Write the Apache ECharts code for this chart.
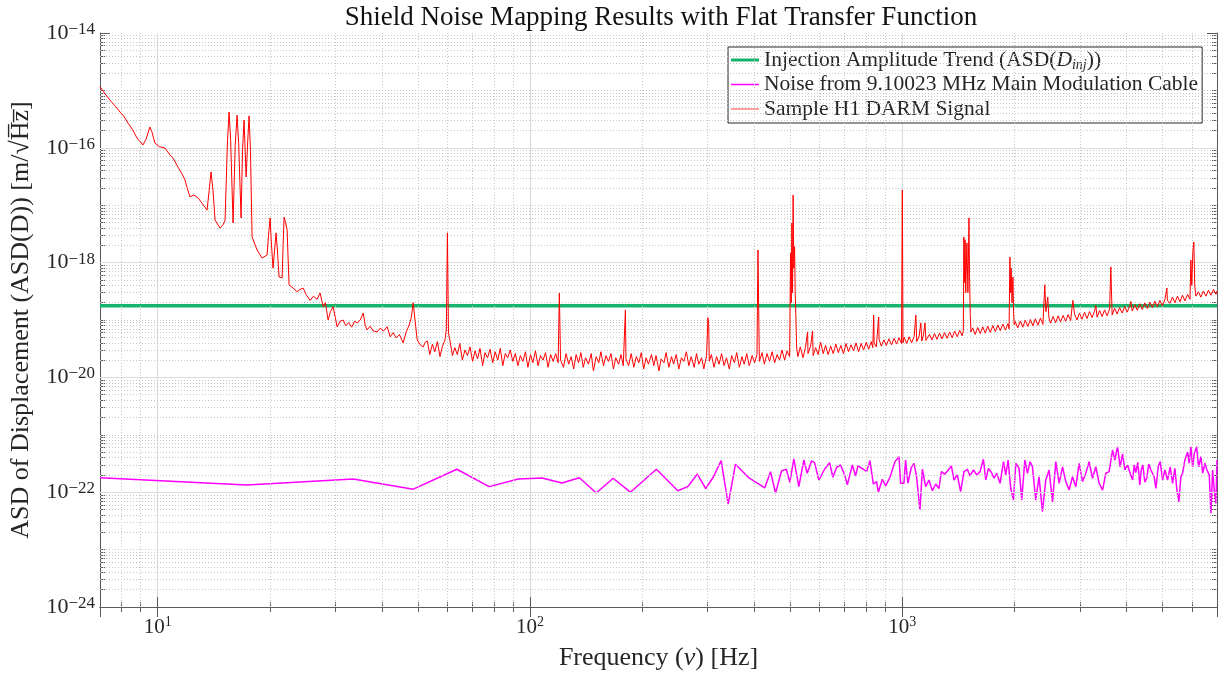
<!DOCTYPE html>
<html>
<head>
<meta charset="utf-8">
<script src="https://cdn.jsdelivr.net/npm/echarts@6/dist/echarts.min.js"></script>
<style>html,body{margin:0;padding:0;background:#fff}#chart{width:1230px;height:674px}</style>
</head>
<body>
<div id="chart"></div>
<script>
// ---------------- data ----------------
const xRange = [7, 7000];
const yRange = [1e-24, 1e-14];
const xDecades = [1, 10, 100, 1000];
const yDecadeExponents = [-24, -23, -22, -21, -20, -19, -18, -17, -16, -15];
const yLabelExponents = [-24, -22, -20, -18, -16, -14];
const minorMultipliers = [2, 3, 4, 5, 6, 7, 8, 9];

const legendNames = [
  'Injection Amplitude Trend (ASD(D_inj))',
  'Noise from 9.10023 MHz Main Modulation Cable',
  'Sample H1 DARM Signal'
];

const injectionTrend = [[7, 1.77e-19], [7000, 1.77e-19]];

const cableNoise = [
[7.0,1.79e-22],[17.35,1.34e-22],[33.5,1.70e-22],[48.6,1.13e-22],[63.6,2.51e-22],[77.7,1.25e-22],[93.0,1.70e-22],[107.7,1.77e-22],[121.9,1.45e-22],[135.7,1.79e-22],[150.7,9.7e-23],[167.2,1.75e-22],[186,1.0e-22],[218.5,2.51e-22],[249.4,1.06e-22],[265.3,1.25e-22],[281.2,2.06e-22],[296.5,1.16e-22],[310.5,1.82e-22],[326.1,3.54e-22],[340.6,6.2e-23],[356.4,3.07e-22],[385.5,1.82e-22],[427.1,1.19e-22],[442.6,2.28e-22],[456.5,9.6e-23],[473.7,2.35e-22],[487.7,2.51e-22],[498.7,1.49e-22],[511.2,3.79e-22],[527.2,1.25e-22],[543.8,3.64e-22],[555.3,2.14e-22],[570.4,3.5e-22],[581.1,3.27e-22],[596.8,1.63e-22],[618.2,2.51e-22],[637.7,3.27e-22],[650.8,1.82e-22],[666.0,2.72e-22],[682.6,2.98e-22],[699.8,2.0e-22],[711.6,1.34e-22],[734.0,2.98e-22],[749.1,1.92e-22],[759.8,2.87e-22],[785.7,2.51e-22],[801.8,2.28e-22],[818.4,3.54e-22],[835.7,1.39e-22],[853.0,1.53e-22],[862.1,1.0e-22],[883.6,1.68e-22],[901.9,1.29e-22],[926.3,1.82e-22],[955.3,3.41e-22],[979.3,4.16e-22],[989.5,1.43e-22],[1010,1.43e-22],[1020,3.64e-22],[1035,1.43e-22],[1057,2.69e-22],[1075,3.19e-22],[1092,1.86e-22],[1115,4.9e-23],[1132,2.51e-22],[1155,1.25e-22],[1179,1.63e-22],[1204,1.06e-22],[1229,1.39e-22],[1254,1.16e-22],[1273,2.28e-22],[1299,2.06e-22],[1329,2.44e-22],[1354,2.87e-22],[1376,1.63e-22],[1405,2.0e-22],[1434,1.02e-22],[1464,2.28e-22],[1495,2.51e-22],[1519,1.92e-22],[1552,2.44e-22],[1584,2.0e-22],[1617,2.28e-22],[1651,3.74e-22],[1675,1.63e-22],[1703,2.6e-22],[1735,2.2e-22],[1763,1.75e-22],[1793,2.14e-22],[1830,1.43e-22],[1869,3.41e-22],[1896,2.0e-22],[1923,3.64e-22],[1955,1.16e-22],[1988,7.3e-23],[2017,3.19e-22],[2058,2.6e-22],[2093,7.3e-23],[2133,3.64e-22],[2168,2.14e-22],[2203,3.41e-22],[2236,2.77e-22],[2282,7.3e-23],[2329,1.86e-22],[2378,4.6e-23],[2428,1.63e-22],[2478,2.44e-22],[2531,6.8e-23],[2583,3.41e-22],[2637,1.43e-22],[2693,2.77e-22],[2748,1.53e-22],[2805,1.09e-22],[2864,1.86e-22],[2924,1.25e-22],[2984,3.19e-22],[3048,1.53e-22],[3110,2.14e-22],[3174,3.41e-22],[3242,1.75e-22],[3309,2.77e-22],[3377,1.43e-22],[3449,1.09e-22],[3520,2.14e-22],[3593,2.28e-22],[3669,5.44e-22],[3722,3.64e-22],[3784,6.2e-22],[3846,2.77e-22],[3904,4.65e-22],[3960,2.44e-22],[4026,2.98e-22],[4091,2.14e-22],[4153,1.63e-22],[4195,3.0e-22],[4236,2.2e-22],[4290,3.3e-22],[4342,1.34e-22],[4385,2.5e-22],[4425,2.98e-22],[4480,1.5e-22],[4536,1.77e-22],[4590,3.1e-22],[4650,2.44e-22],[4746,1.86e-22],[4797,1.16e-22],[4866,2.77e-22],[4926,3.41e-22],[4999,1.63e-22],[5071,2.44e-22],[5157,1.63e-22],[5241,2.77e-22],[5319,1.43e-22],[5395,2.6e-22],[5463,1.09e-22],[5530,6.8e-23],[5599,1.86e-22],[5658,2.14e-22],[5740,3.64e-22],[5836,5.0e-22],[5894,3.19e-22],[5957,6.2e-22],[6020,2.77e-22],[6080,4.65e-22],[6170,6.2e-22],[6248,2.77e-22],[6338,4.16e-22],[6405,2.14e-22],[6496,3.19e-22],[6577,2.44e-22],[6672,2.0e-22],[6743,4.3e-23],[6813,2.44e-22],[6881,1.09e-22],[6953,6.4e-23],[7000,3.64e-22]
];

const darmSignal = [
[7.0,1.16e-15],[7.2,9.0e-16],[7.44,6.8e-16],[7.7,5.3e-16],[7.92,4.2e-16],[8.1,3.6e-16],[8.32,2.7e-16],[8.55,2.1e-16],[8.8,1.48e-16],[8.95,1.3e-16],[9.13,1.12e-16],[9.3,1.4e-16],[9.53,2.3e-16],[9.65,1.9e-16],[9.83,1.21e-16],[10.1,1.05e-16],[10.46,9.9e-17],[10.79,7.5e-17],[11.0,6.6e-17],[11.34,4.6e-17],[11.6,3.6e-17],[11.84,2.75e-17],[12.0,2.0e-17],[12.21,1.4e-17],[12.5,1.5e-17],[12.83,1.35e-17],[13.2,1.05e-17],[13.57,8.2e-18],[13.75,1.8e-17],[13.91,3.8e-17],[14.08,1.8e-17],[14.26,5.5e-18],[14.71,4.0e-18],[15.0,4.6e-18],[15.17,5.5e-18],[15.4,1.3e-16],[15.55,4.2e-16],[15.7,1.4e-16],[15.94,4.9e-18],[16.15,1.1e-16],[16.34,3.7e-16],[16.5,1.2e-16],[16.75,6.0e-18],[16.9,9e-17],[17.06,3.05e-16],[17.15,1.2e-16],[17.28,3.1e-17],[17.45,1.3e-16],[17.6,3.6e-16],[17.75,9e-17],[17.93,2.8e-18],[18.49,1.66e-18],[19.07,1.2e-18],[19.67,1.36e-18],[19.85,3e-18],[20.04,6.0e-18],[20.2,2.2e-18],[20.41,8.0e-19],[20.6,1.6e-18],[20.8,3.3e-18],[21.0,1.4e-18],[21.19,5.6e-19],[21.59,5.4e-19],[21.72,2e-18],[21.86,6.2e-18],[22.05,5e-18],[22.27,3.7e-18],[22.4,1.2e-18],[22.54,4.1e-19],
[23.1,3.6e-19],[23.69,3.1e-19],[24.1,3.4e-19],[24.58,3.6e-19],[25.1,2.7e-19],[25.67,2.2e-19],[26.2,2.6e-19],[26.8,2.3e-19],[27.31,2.95e-19],[27.82,1.7e-19],[28.2,2.0e-19],[28.7,1.0e-19],[29.1,1.4e-19],[29.6,1.7e-19],[30.0,1.1e-19],[30.34,7.6e-20],[30.9,9.5e-20],[31.48,1.0e-19],[32.0,8.0e-20],[32.6,9.0e-20],[33.2,7.5e-20],[33.8,9.5e-20],[34.35,8.9e-20],[35.0,1.0e-19],[35.65,1.32e-19],[36.1,8e-20],[36.52,6.7e-20],[37.2,7.8e-20],[37.9,6.5e-20],[38.86,6.2e-20],[39.6,7.2e-20],[40.4,6.4e-20],[41.34,7.6e-20],[42.12,5.1e-20],[42.9,6.0e-20],[43.7,4.9e-20],[44.6,5.6e-20],[45.64,4.0e-20],[46.5,6.2e-20],[47.37,8.2e-20],[48.0,1.1e-19],[48.57,2.0e-19],[49.1,1.0e-19],[49.78,4.5e-20],[50.7,3.7e-20],[51.67,3.4e-20],[52.3,4.1e-20],
[53.0,4.3e-20],[53.8,2.5e-20],[54.7,3.8e-20],[55.5,2.8e-20],[56.4,4.2e-20],[57.3,2.3e-20],[58.2,3.5e-20],[59.1,4.5e-20],[59.6,6.7e-20],[60.0,3.3e-18],[60.4,6.0e-20],[60.9,4.5e-20],[61.9,2.4e-20],[62.8,3.3e-20],[63.8,2.5e-20],[64.8,3.9e-20],[65.8,2.0e-20],[66.9,3.0e-20],[67.9,2.4e-20],[69.0,3.4e-20],[70.1,1.9e-20],[71.2,2.9e-20],[72.3,2.1e-20],[73.4,3.2e-20],[74.6,1.6e-20],[75.7,2.7e-20],[76.9,2.2e-20],[78.1,3.1e-20],[79.4,1.8e-20],[80.6,2.8e-20],[81.9,2.0e-20],[83.2,3.2e-20],[84.5,1.6e-20],[85.8,2.6e-20],[87.1,2.2e-20],[88.5,3.0e-20],[89.9,1.9e-20],[91.3,2.6e-20],[92.8,1.6e-20],[94.2,2.4e-20],[95.7,1.9e-20],[97.2,2.8e-20],[98.7,1.5e-20],[100.3,2.5e-20],[101.8,1.8e-20],[103.4,2.9e-20],[105.1,1.6e-20],[106.7,2.4e-20],[108.4,2.0e-20],[110.1,2.7e-20],[111.8,1.5e-20],[113.6,2.5e-20],[115.4,1.9e-20],[117.2,2.6e-20],[119.0,1.8e-20],[119.9,2.95e-19],[120.8,2.0e-20],
[123,1.5e-20],[125,2.6e-20],[127,1.7e-20],[129,2.3e-20],[131,1.4e-20],[133,2.5e-20],[135,1.8e-20],[137,2.7e-20],[139,1.5e-20],[141,2.2e-20],[143.5,1.7e-20],[146,2.6e-20],[148,1.3e-20],[150.5,2.3e-20],[153,1.8e-20],[155,2.8e-20],[157.5,1.6e-20],[160,2.4e-20],[162.5,1.9e-20],[165,2.6e-20],[167.5,1.4e-20],[170,2.2e-20],[173,1.7e-20],[175.5,2.5e-20],[178,1.6e-20],[180.4,1.5e-19],[181,2.1e-20],[184,1.6e-20],[187,2.6e-20],[190,1.5e-20],[193,2.3e-20],[196,1.8e-20],[199,2.7e-20],[202,1.4e-20],[205,2.2e-20],[208,1.7e-20],[212,2.5e-20],[215,1.6e-20],[218,2.4e-20],[222,1.3e-20],[225,2.1e-20],[229,1.8e-20],[232,2.7e-20],[236,1.5e-20],[240,2.3e-20],[243,1.7e-20],[247,2.5e-20],[251,1.4e-20],[255,2.2e-20],[259,1.9e-20],[263,2.8e-20],[267,1.6e-20],[271,2.3e-20],[276,1.5e-20],[280,2.6e-20],[284,1.7e-20],[289,2.2e-20],[293,1.4e-20],[298,2.4e-20],[300.5,1.1e-19],[302,8.0e-20],[303,1.9e-20],[307,2.5e-20],[312,1.5e-20],[317,2.3e-20],[322,1.7e-20],[327,2.6e-20],[332,1.6e-20],[337,2.2e-20],[343,1.4e-20],[348,2.4e-20],[354,1.8e-20],[359,2.7e-20],[365,1.5e-20],[371,2.3e-20],[376,1.7e-20],[382,2.6e-20],[388,1.6e-20],[395,2.4e-20],[401,1.8e-20],[407,2.5e-20],[409.5,1.66e-18],[413,1.9e-20],[420,2.7e-20],[426,1.7e-20],[433,2.6e-20],[440,1.9e-20],[447,2.8e-20],[454,1.8e-20],[461,2.5e-20],[468,2.0e-20],[475,3.0e-20],[483,2.0e-20],[490,2.9e-20],[498,2.3e-20],
[500.8,1.47e-18],[503.0,2.0e-19],[505.0,4.9e-18],[507.0,3e-19],[509.0,1.5e-17],[511.0,8e-19],[513.5,1.9e-18],[515.5,3e-19],[518.0,1.0e-19],[520.0,3.4e-20],[524,2.3e-20],[532,3.4e-20],[541,2.2e-20],[549,3.3e-20],[556.6,6.2e-20],[558,2.6e-20],[567,3.5e-20],[574,6.4e-20],[576,2.4e-20],[585,3.3e-20],[594,2.5e-20],[603,4.1e-20],[613,2.6e-20],[622,3.6e-20],[632,2.5e-20],[642,3.5e-20],[652,2.6e-20],[663,3.8e-20],[673,2.7e-20],[684,3.6e-20],[695,2.6e-20],[706,3.9e-20],[717,2.8e-20],[728,3.7e-20],[740,2.9e-20],[751,4.0e-20],[763,2.8e-20],[775,3.9e-20],[787,3.0e-20],[800,4.1e-20],[812,3.1e-20],[825,4.2e-20],[833,3.3e-20],[837.5,1.22e-19],[840,4.0e-20],[851,3.4e-20],[864,1.13e-19],[866,4.6e-20],[878,3.5e-20],[892,4.5e-20],[906,3.6e-20],[920,4.7e-20],[935,3.7e-20],[950,4.8e-20],[965,3.8e-20],[980,4.9e-20],[995,3.9e-20],[1000,1.84e-17],[1004,4.0e-20],
[1011,5.0e-20],[1027,3.9e-20],[1043,5.1e-20],[1059,4.0e-20],[1076,5.2e-20],[1087,1.22e-19],[1093,4.2e-20],[1110,5.3e-20],[1121,8.9e-20],[1128,4.3e-20],[1140,5.5e-20],[1150,8.9e-20],[1157,4.4e-20],[1182,5.6e-20],[1201,4.5e-20],[1220,5.8e-20],[1239,4.6e-20],[1258,5.9e-20],[1278,4.7e-20],[1298,6.0e-20],[1319,4.8e-20],[1340,6.2e-20],[1361,4.9e-20],[1382,6.4e-20],[1404,5.1e-20],[1426,6.6e-20],[1448,5.3e-20],[1458,6.5e-20],
[1463.0,2.8e-18],[1468.0,4.5e-19],[1474.0,2.5e-18],[1480.0,3e-19],[1491.0,2.2e-18],[1500.0,3e-19],[1510.0,6.0e-18],[1515.0,6e-19],[1522.0,1.2e-19],[1529.0,6.2e-20],[1545,7.3e-20],[1569,5.6e-20],[1594,7.4e-20],[1619,5.8e-20],[1644,7.6e-20],[1670,5.9e-20],[1696,7.8e-20],[1723,6.1e-20],[1750,8.0e-20],[1777,6.3e-20],[1805,8.2e-20],[1833,6.5e-20],[1862,8.5e-20],[1891,6.7e-20],[1921,8.6e-20],[1935,7.0e-20],[1945.0,1.25e-18],[1952.0,3e-19],[1960.0,8e-19],[1970.0,2e-19],[1982.0,5.6e-19],[1990.0,1.3e-19],[1998.0,8.2e-20],[2010,9.4e-20],[2042,7.3e-20],[2074,9.6e-20],[2106,7.5e-20],[2139,9.9e-20],[2173,7.7e-20],[2207,1.02e-19],[2242,7.9e-20],[2277,1.05e-19],[2313,8.1e-20],[2349,1.08e-19],[2386,8.4e-20],[2413,4.1e-19],[2430,1.4e-19],[2458,2.5e-19],[2475,1.1e-19],[2500,8.8e-20],[2540,1.15e-19],[2580,9.0e-20],[2620,1.18e-19],[2661,9.3e-20],[2703,1.2e-19],[2745,9.5e-20],[2788,1.24e-19],[2832,9.8e-20],[2870,2.2e-19],[2900,1.28e-19],[2945,1.0e-19],[2990,1.32e-19],[3037,1.03e-19],[3085,1.36e-19],[3133,1.06e-19],[3182,1.4e-19],[3232,1.1e-19],[3282,1.43e-19],[3309,1.8e-19],[3334,1.12e-19],[3386,1.47e-19],[3439,1.15e-19],[3493,1.5e-19],[3548,1.18e-19],[3603,1.55e-19],[3630,8.4e-19],[3660,1.22e-19],[3717,1.6e-19],[3775,1.27e-19],[3834,1.65e-19],[3894,1.32e-19],[3955,1.72e-19],[4017,1.37e-19],[4080,1.78e-19],[4109,2.1e-19],[4144,1.43e-19],[4209,1.85e-19],[4275,1.48e-19],[4342,1.92e-19],[4410,1.53e-19],[4479,1.98e-19],[4549,1.58e-19],[4620,2.05e-19],[4693,1.64e-19],[4766,2.12e-19],[4841,1.7e-19],[4917,2.2e-19],[4994,1.76e-19],[5072,2.28e-19],[5134,3.6e-19],[5151,2.2e-19],[5232,1.95e-19],[5314,2.5e-19],[5397,2.0e-19],[5481,2.6e-19],[5567,2.08e-19],[5654,2.7e-19],[5743,2.15e-19],[5833,2.8e-19],[5924,2.3e-19],[5956,1.11e-18],[5990,4e-19],[6030,1.6e-18],[6067,2.29e-18],[6100,4e-19],[6142,2.6e-19],[6238,3.1e-19],[6336,2.5e-19],[6435,3.2e-19],[6536,2.6e-19],[6638,3.3e-19],[6742,2.7e-19],[6848,3.4e-19],[6955,2.8e-19],[7000,3.2e-19]
];

// ---------------- tick lists (from the decade lists) ----------------
const xMinorTicks = [];
xDecades.forEach(d => minorMultipliers.forEach(m => {
  const v = m * d;
  if (v > xRange[0] && v < xRange[1]) xMinorTicks.push(v);
}));
const yLabelValues = yLabelExponents.map(e => Math.pow(10, e));
const yMinorTicks = [];
yDecadeExponents.forEach(e => {
  if (yLabelExponents.indexOf(e) < 0) yMinorTicks.push(Math.pow(10, e));
  minorMultipliers.forEach(m => yMinorTicks.push(m * Math.pow(10, e)));
});

// ---------------- styling ----------------
const FONT = '"Liberation Serif", "DejaVu Serif", serif';
const AXIS = '#5a5a5a';
const TXT = '#262626';
const MINOR_GRID = { color: '#c6c6c6', width: 1, type: [1, 2] };
const MAJOR_GRID = { color: '#dcdcdc', width: 1.2, type: 'solid' };

function logLabel(v) {
  const lg = Math.log10(v), e = Math.round(lg);
  if (Math.abs(lg - e) > 1e-6) return '';
  return '{b|10}{s|' + (e < 0 ? '\u2212' + (-e) : String(e)) + '}';
}
const xLabelRich = {
  b: { fontFamily: FONT, fontSize: 21, color: TXT, lineHeight: 24 },
  s: { fontFamily: FONT, fontSize: 14, color: TXT, lineHeight: 14, verticalAlign: 'top' }
};
const yLabelRich = {
  b: { fontFamily: FONT, fontSize: 22, color: TXT, lineHeight: 24 },
  s: { fontFamily: FONT, fontSize: 17, color: TXT, lineHeight: 15, verticalAlign: 'top' }
};

function baseAxis(range) {
  return { type: 'log', logBase: 10, min: range[0], max: range[1], silent: true };
}
function tickAxis(range, pos, len, custom, showLine) {
  const a = baseAxis(range);
  a.position = pos;
  a.axisLine = { show: !!showLine, lineStyle: { color: AXIS, width: 1 } };
  a.axisTick = { show: true, inside: true, length: len, lineStyle: { color: AXIS, width: 1 } };
  if (custom) a.axisTick.customValues = custom;
  a.axisLabel = { show: false };
  a.splitLine = { show: false };
  a.minorTick = { show: false };
  return a;
}

const xMain = Object.assign(baseAxis(xRange), {
  position: 'bottom',
  axisLine: { show: true, lineStyle: { color: AXIS, width: 1 } },
  axisTick: { show: true, inside: true, length: 10, lineStyle: { color: AXIS, width: 1 } },
  axisLabel: { formatter: logLabel, rich: xLabelRich, margin: 8, showMinLabel: false, showMaxLabel: false },
  splitLine: { show: true, lineStyle: MAJOR_GRID },
  name: 'Frequency ({i|\u03BD}) [Hz]',
  nameLocation: 'middle',
  nameGap: 38,
  nameMoveOverlap: false,
  nameTextStyle: {
    fontFamily: FONT, fontSize: 26, color: TXT,
    rich: { i: { fontFamily: FONT, fontSize: 26, fontStyle: 'italic', color: TXT } }
  }
});
const yMain = Object.assign(baseAxis(yRange), {
  position: 'left',
  axisLine: { show: true, lineStyle: { color: AXIS, width: 1 } },
  axisTick: { show: true, inside: true, length: 10, customValues: yLabelValues, lineStyle: { color: AXIS, width: 1 } },
  axisLabel: { formatter: logLabel, rich: yLabelRich, margin: 5, customValues: yLabelValues },
  splitLine: { show: false },
  name: 'ASD of Displacement (ASD(D)) [m/\u221AH\u0305z\u0305]',
  nameLocation: 'middle',
  nameGap: 66,
  nameMoveOverlap: false,
  nameTextStyle: { fontFamily: FONT, fontSize: 26, color: TXT }
});
// hidden linear axis in decades, used only to place the horizontal grid lines
const yDecadeAxis = {
  type: 'value', min: Math.log10(yRange[0]), max: Math.log10(yRange[1]), show: false,
  position: 'left', splitLine: { show: false }
};

const xMinorMarks = xMinorTicks.map(v => ({ xAxis: v }));
const yMinorMarks = yMinorTicks.map(v => ({ yAxis: Math.log10(v) }));
const yMajorMarks = yLabelExponents.slice(1, -1).map(e => ({ yAxis: e }));
const decadeFrame = [[xRange[0], Math.log10(yRange[0])], [xRange[1], Math.log10(yRange[0])]];

function gridSeries(name, yIndex, data, marks, style) {
  return {
    name: name, type: 'line', xAxisIndex: 0, yAxisIndex: yIndex, data: data,
    symbol: 'none', silent: true, z: 1, lineStyle: { opacity: 0 },
    markLine: {
      silent: true, symbol: ['none', 'none'], animation: false, precision: 8,
      label: { show: false }, lineStyle: style, emphasis: { disabled: true },
      data: marks
    }
  };
}

// legend line icons: thin bar centred in a 28x14 box (corner dots fix the box)
function lineIcon(th) {
  const y0 = 7 - th / 2, y1 = 7 + th / 2;
  return 'path://M0,0h0.01v0.01h-0.01z M0,' + y0 + 'H28V' + y1 + 'H0z M27.99,14h0.01v-0.01h-0.01z';
}

const option = {
  animation: false,
  backgroundColor: '#ffffff',
  textStyle: { fontFamily: FONT },
  title: {
    text: 'Shield Noise Mapping Results with Flat Transfer Function',
    left: 656, top: -1, textAlign: 'center',
    textStyle: { fontFamily: FONT, fontSize: 27, fontWeight: 'normal', color: '#111' }
  },
  grid: { left: 100, right: 13, top: 33, bottom: 67, outerBoundsMode: 'none', containLabel: false },
  legend: {
    data: [
      { name: legendNames[0], icon: lineIcon(3), itemStyle: { color: '#14b46c' } },
      { name: legendNames[1], icon: lineIcon(1.6), itemStyle: { color: '#ff00ff' } },
      { name: legendNames[2], icon: lineIcon(1.1), itemStyle: { color: '#ff4040' } }
    ],
    orient: 'vertical',
    left: 728, top: 47,
    selectedMode: false,
    backgroundColor: '#ffffff',
    borderColor: '#262626', borderWidth: 1, borderRadius: 0,
    padding: [1, 4, 2, 3],
    itemWidth: 28, itemHeight: 14, itemGap: 0.5,
    textStyle: {
      fontFamily: FONT, fontSize: 21.5, color: TXT, lineHeight: 24,
      rich: {
        n: { fontFamily: FONT, fontSize: 21.5, color: TXT, lineHeight: 24 },
        i: { fontFamily: FONT, fontSize: 21.5, fontStyle: 'italic', color: TXT, lineHeight: 24 },
        sub: { fontFamily: FONT, fontSize: 14, fontStyle: 'italic', color: TXT, lineHeight: 14, verticalAlign: 'bottom' }
      }
    },
    formatter: function (name) {
      if (name === legendNames[0]) return '{n|Injection Amplitude Trend (ASD(}{i|D}{sub|inj}{n|))}';
      return '{n|' + name + '}';
    }
  },
  xAxis: [
    xMain,
    tickAxis(xRange, 'bottom', 5, xMinorTicks, false),
    tickAxis(xRange, 'top', 10, null, true),
    tickAxis(xRange, 'top', 5, xMinorTicks, false)
  ],
  yAxis: [
    yMain,
    tickAxis(yRange, 'left', 5, yMinorTicks, false),
    tickAxis(yRange, 'right', 10, yLabelValues, true),
    tickAxis(yRange, 'right', 5, yMinorTicks, false),
    yDecadeAxis
  ],
  series: [
    gridSeries('grid-x-minor', 0, injectionTrend, xMinorMarks, MINOR_GRID),
    gridSeries('grid-y-minor', 4, decadeFrame, yMinorMarks, MINOR_GRID),
    gridSeries('grid-y-major', 4, decadeFrame, yMajorMarks, MAJOR_GRID),
    {
      name: legendNames[0], type: 'line', data: injectionTrend, symbol: 'none', z: 3,
      lineStyle: { color: '#14b46c', width: 3.5 }, itemStyle: { color: '#14b46c' }
    },
    {
      name: legendNames[1], type: 'line', data: cableNoise, symbol: 'none', z: 4,
      lineStyle: { color: '#ff00ff', width: 1.5 }, itemStyle: { color: '#ff00ff' }
    },
    {
      name: legendNames[2], type: 'line', data: darmSignal, symbol: 'none', z: 5,
      lineStyle: { color: '#ff0000', width: 1 }, itemStyle: { color: '#ff0000' }
    }
  ]
};

const chart = echarts.init(document.getElementById('chart'), null, { renderer: 'canvas' });
chart.setOption(option);
</script>
</body>
</html>
